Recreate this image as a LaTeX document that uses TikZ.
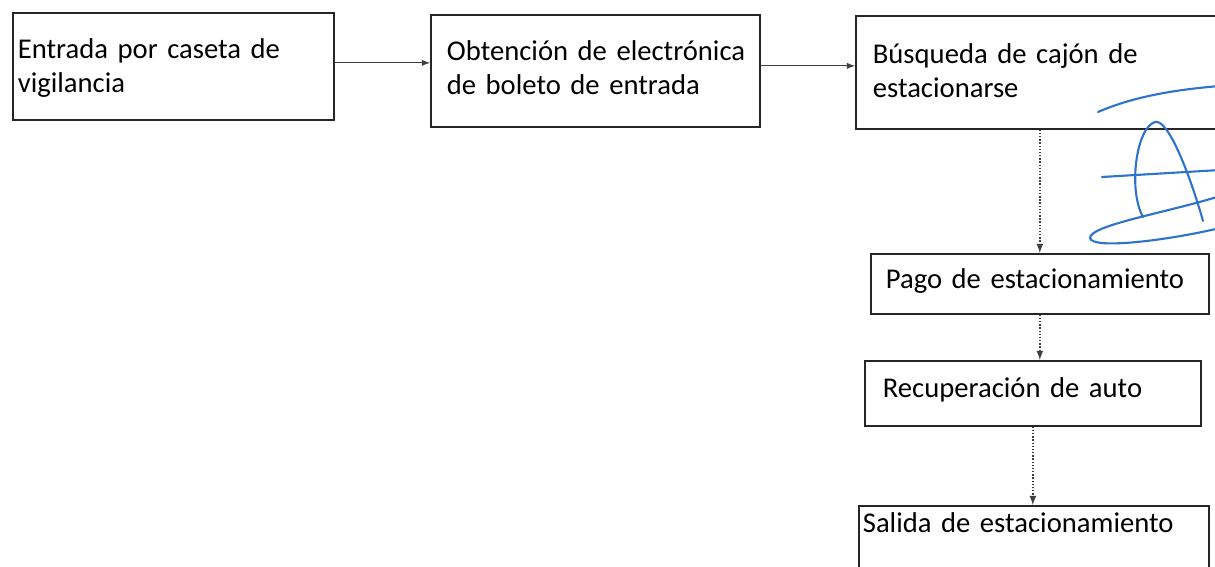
\documentclass[tikz,border=0pt]{standalone}
\usepackage{fontspec}
\setmainfont[WordSpace=0.85]{Carlito}
\usetikzlibrary{calc}

\definecolor{inkblue}{RGB}{45,115,205}

\tikzset{
  stepbox/.style={draw=black!85, line width=1pt, anchor=north west, align=left,
    inner ysep=0pt, font=\fontsize{16.3}{19}\selectfont},
  flowarrow/.style={draw=black!75, line width=0.6pt, -latex},
  dotarrow/.style={flowarrow, line width=0.8pt, densely dotted},
  scribble/.style={draw=inkblue, line width=1.2pt, line cap=round}
}

\begin{document}
\begin{tikzpicture}[x=0.02cm,y=-0.02cm]
\useasboundingbox (0,0) rectangle (1215,567);
\clip (0,0) rectangle (1215,567);

% Top row
\node[stepbox, inner xsep=0.1cm, text width=6.22cm, text height=0.92cm, text depth=1.22cm]
  (entrada) at (12,12) {\mbox{Entrada por caseta de}\\vigilancia};
\node[stepbox, inner xsep=0.32cm, text width=5.94cm, text height=0.92cm, text depth=1.32cm]
  (boleto) at (430,14) {\mbox{Obtención de electrónica}\\de boleto de entrada};
\node[stepbox, inner xsep=0.34cm, text width=6.82cm, text height=0.96cm, text depth=1.30cm]
  (cajon) at (855,15) {\mbox{Búsqueda de cajón de}\\estacionarse};

% Right column
\node[stepbox, inner xsep=0.30cm, text width=6.16cm, text height=0.70cm, text depth=0.50cm]
  (pago) at (870,253) {Pago de estacionamiento};
\node[stepbox, inner xsep=0.36cm, text width=6.00cm, text height=0.74cm, text depth=0.56cm]
  (auto) at (864,360) {Recuperación de auto};
\node[stepbox, inner xsep=0.08cm, text width=6.84cm, text height=0.54cm, text depth=1.46cm]
  (salida) at (858,505) {Salida de estacionamiento};

% Connectors
\draw[flowarrow] ([yshift=0.07cm]entrada.east) -- ([yshift=0.07cm]entrada.east -| boleto.west);
\draw[flowarrow] ([yshift=0.1cm]boleto.east) -- ([yshift=0.1cm]boleto.east -| cajon.west);
\draw[dotarrow] (pago.north |- cajon.south) -- (pago.north);
\draw[dotarrow] (pago.south) -- (pago.south |- auto.north);
\draw[dotarrow] (auto.south) -- (auto.south |- salida.north);

% Handwritten mark
\draw[scribble] (1098,112) .. controls (1130,98) and (1170,90) .. (1220,86);
\draw[scribble] (1143,217) .. controls (1128,190) and (1136,128) .. (1155,122)
  .. controls (1168,118) and (1190,175) .. (1203,221);
\draw[scribble] (1102,177) -- (1220,170);
\draw[scribble] (1220,196) .. controls (1170,212) and (1090,225) .. (1090,238)
  .. controls (1092,250) and (1170,240) .. (1220,228);
\end{tikzpicture}
\end{document}
